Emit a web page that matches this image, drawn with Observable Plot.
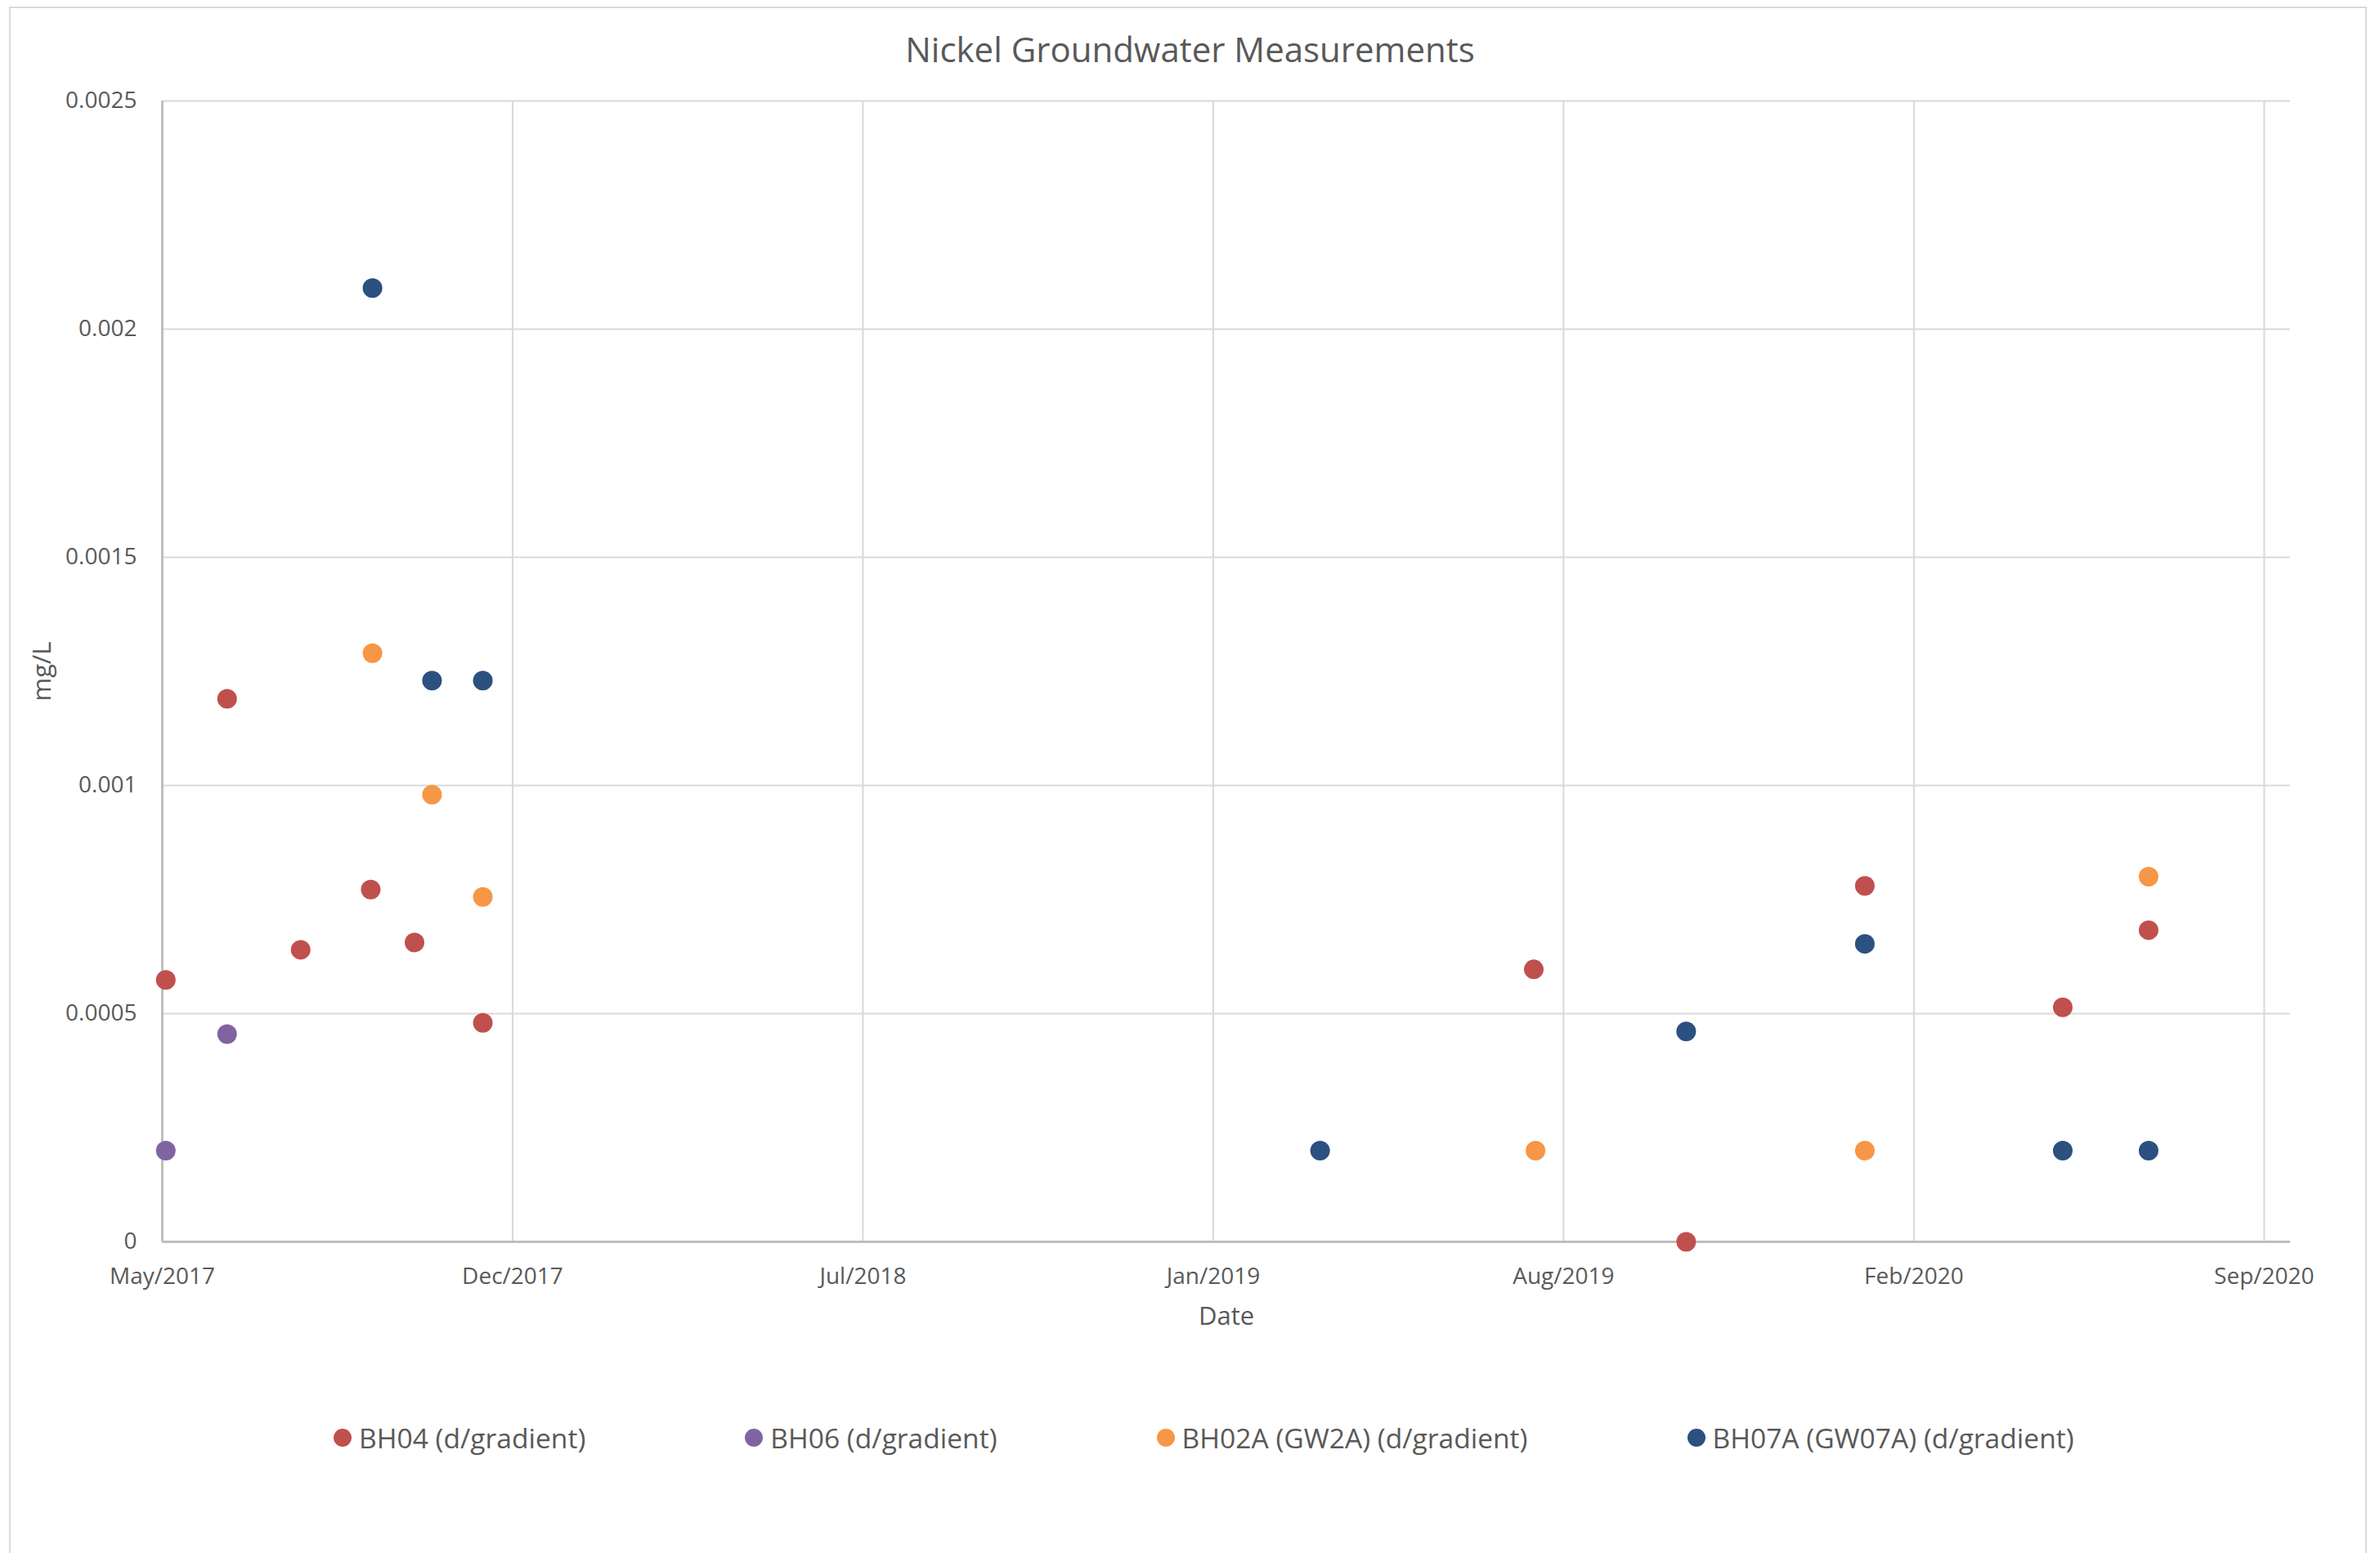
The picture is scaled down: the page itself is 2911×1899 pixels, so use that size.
<!DOCTYPE html>
<html>
<head>
<meta charset="utf-8">
<script src="https://cdn.jsdelivr.net/npm/d3@7"></script>
<script src="https://cdn.jsdelivr.net/npm/@observablehq/plot@0.6"></script>
<style>
  html, body { margin: 0; padding: 0; background: #fff; }
  #wrap { position: relative; width: 2911px; height: 1899px; overflow: hidden; font-family: "Open Sans", sans-serif; color: #595959; }
  #frame { position: absolute; left: 11px; top: 8px; width: 2884px; height: 1900px; border: 2px solid #d9d9d9; box-sizing: border-box; pointer-events: none; }
  #title { height: 80px; padding-top: 20px; line-height: 80px; text-align: center; font-size: 42px; }
  #legend { padding-top: 88px; display: flex; align-items: center; padding-left: 408px; column-gap: 195px; font-size: 33.6px; line-height: 40px; }
  .item { display: flex; align-items: center; white-space: nowrap; }
  .sw { width: 22px; height: 22px; border-radius: 50%; margin-right: 9px; }
</style>
</head>
<body>
<div id="wrap">
  <div id="frame"></div>
  <div id="title">Nickel Groundwater Measurements</div>
  <div id="chart"></div>
  <div id="legend"></div>
</div>
<script>
// ---- data ----
const series = ["BH04 (d/gradient)", "BH06 (d/gradient)", "BH02A (GW2A) (d/gradient)", "BH07A (GW07A) (d/gradient)"];

const bh04Dates  = ["2017-05-31", "2017-07-05", "2017-08-16", "2017-09-25", "2017-10-20", "2017-11-28", "2019-07-21", "2019-10-16", "2020-01-26", "2020-05-18", "2020-07-06"];
const bh04Values = [0.000574, 0.00119, 0.00064, 0.000772, 0.000656, 0.00048, 0.000597, 0, 0.00078, 0.000514, 0.000683];

const bh06Dates  = ["2017-05-31", "2017-07-05"];
const bh06Values = [0.0002, 0.000455];

const bh02aDates  = ["2017-09-26", "2017-10-30", "2017-11-28", "2019-07-22", "2020-01-26", "2020-07-06"];
const bh02aValues = [0.00129, 0.00098, 0.000756, 0.0002, 0.0002, 0.0008];

const bh07aDates  = ["2017-09-26", "2017-10-30", "2017-11-28", "2019-03-21", "2019-10-16", "2020-01-26", "2020-05-18", "2020-07-06"];
const bh07aValues = [0.00209, 0.00123, 0.00123, 0.0002, 0.000461, 0.000653, 0.0002, 0.0002];

const xTickDates = ["2017-05-29", "2017-12-15", "2018-07-03", "2019-01-19", "2019-08-07", "2020-02-23", "2020-09-10"];
const xDomainDates = ["2017-05-29", "2020-09-25"];
const yTicks = [0, 0.0005, 0.001, 0.0015, 0.002, 0.0025];

// ---- styles ----
const colors = ["#C0504D", "#8064A2", "#F79646", "#2C5080"];

// ---- build ----
const toRows = (name, dates, values) => dates.map((d, i) => ({series: name, date: new Date(d), value: values[i]}));
const rows = [
  ...toRows(series[0], bh04Dates, bh04Values),
  ...toRows(series[1], bh06Dates, bh06Values),
  ...toRows(series[2], bh02aDates, bh02aValues),
  ...toRows(series[3], bh07aDates, bh07aValues)
];
const xTicks = xTickDates.map(d => new Date(d));
const xDomain = xDomainDates.map(d => new Date(d));
const fmtX = d3.utcFormat("%b/%Y");

const chart = Plot.plot({
  width: 2911,
  height: 1550,
  marginTop: 23,
  marginBottom: 132,
  marginLeft: 198,
  marginRight: 110,
  style: {fontFamily: "Open Sans, sans-serif", fontSize: "28px", color: "#595959", background: "transparent", overflow: "visible"},
  x: {type: "utc", domain: xDomain},
  y: {domain: [yTicks[0], yTicks[yTicks.length - 1]]},
  color: {domain: series, range: colors},
  marks: [
    Plot.gridY({ticks: yTicks, stroke: "#d9d9d9", strokeOpacity: 1, strokeWidth: 2}),
    Plot.gridX({ticks: xTicks, stroke: "#d9d9d9", strokeOpacity: 1, strokeWidth: 2}),
    Plot.ruleX([xDomain[0]], {stroke: "#bfbfbf", strokeWidth: 3}),
    Plot.ruleY([yTicks[0]], {stroke: "#bfbfbf", strokeWidth: 3}),
    Plot.axisX({ticks: xTicks, tickFormat: fmtX, tickSize: 0, tickPadding: 32, label: null, fontSize: 28}),
    Plot.axisY({ticks: yTicks, tickFormat: d => String(d), tickSize: 0, tickPadding: 31, label: null, fontSize: 28}),
    Plot.dot(rows, {x: "date", y: "value", fill: "series", r: 12, stroke: null}),
    Plot.text(["Date"], {text: d => d, frameAnchor: "bottom", dy: 92, lineAnchor: "middle", fontSize: 31, fill: "#595959"}),
    Plot.text(["mg/L"], {text: d => d, frameAnchor: "left", textAnchor: "middle", lineAnchor: "middle", rotate: -90, dx: -146, fontSize: 31, fill: "#595959"})
  ]
});
document.getElementById("chart").appendChild(chart);

const legend = document.getElementById("legend");
series.forEach((s, i) => {
  const item = document.createElement("div");
  item.className = "item";
  const sw = document.createElement("span");
  sw.className = "sw";
  sw.style.background = colors[i];
  const label = document.createElement("span");
  label.textContent = s;
  item.appendChild(sw);
  item.appendChild(label);
  legend.appendChild(item);
});
</script>
</body>
</html>
